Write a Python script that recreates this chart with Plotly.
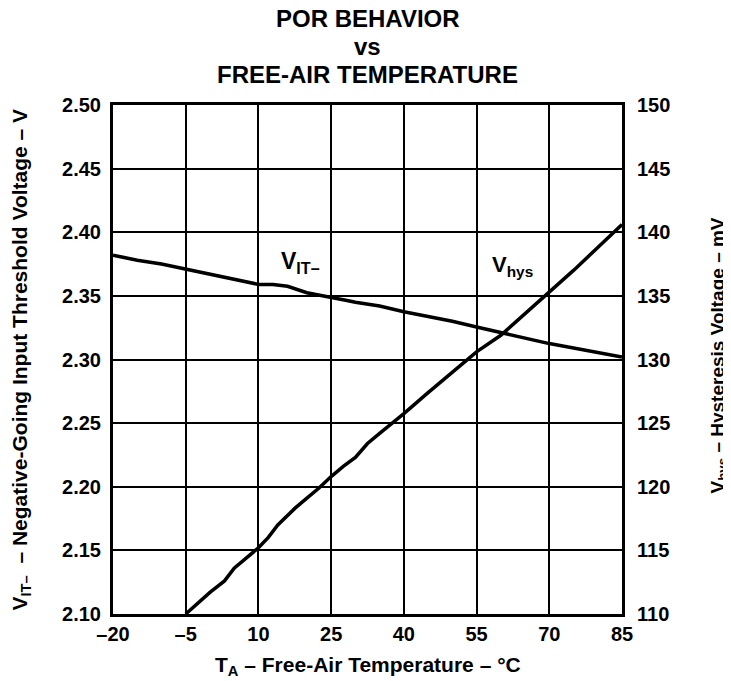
import plotly.graph_objects as go

# Data
temp_vit = [-20, -15, -10, -5, 0, 5, 10, 13, 16, 20, 23, 25, 28, 30, 35, 40, 45, 50, 55, 60, 65, 70, 75, 80, 85]
vit = [2.382, 2.378, 2.375, 2.371, 2.367, 2.363, 2.359, 2.359, 2.3575, 2.3525, 2.3505, 2.349, 2.3465, 2.345,
       2.342, 2.3375, 2.334, 2.330, 2.3255, 2.321, 2.317, 2.3125, 2.309, 2.3055, 2.302]

temp_hys = [-5, 0, 3, 5, 10, 12, 14, 17.5, 20, 22.5, 25, 27.5, 30, 32.5, 35, 40, 45, 50, 55, 60, 65, 70, 75, 80, 85]
vhys = [110.0, 111.7, 112.6, 113.6, 115.2, 116.0, 117.0, 118.3, 119.1, 119.9, 120.8, 121.6, 122.3, 123.4,
        124.2, 125.75, 127.4, 129.0, 130.6, 131.9, 133.6, 135.3, 137.0, 138.8, 140.6]

x_ticks = [-20, -5, 10, 25, 40, 55, 70, 85]
x_ticktext = ["–20", "–5", "10", "25", "40", "55", "70", "85"]
y_ticks = [2.10, 2.15, 2.20, 2.25, 2.30, 2.35, 2.40, 2.45, 2.50]
y2_ticks = [110, 115, 120, 125, 130, 135, 140, 145, 150]

title_lines = ["POR BEHAVIOR", "vs", "FREE-AIR TEMPERATURE"]

FONT = "Liberation Sans, Arial, sans-serif"
W, H = 723, 673
L, R, T, B = 105, 109, 97, 67

fig = go.Figure()
fig.add_trace(go.Scatter(x=temp_vit, y=vit, mode="lines", line=dict(color="black", width=3.5),
                         yaxis="y", showlegend=False))
fig.add_trace(go.Scatter(x=temp_hys, y=vhys, mode="lines", line=dict(color="black", width=3.5),
                         yaxis="y2", showlegend=False))

tickfont = dict(family=FONT, size=20, color="black", weight="bold")

fig.update_layout(
    width=W, height=H,
    margin=dict(l=L, r=R, t=T, b=B, pad=0),
    paper_bgcolor="white", plot_bgcolor="white",
    font=dict(family=FONT, color="black"),
    xaxis=dict(range=[-20, 85], tickvals=x_ticks, ticktext=x_ticktext, showgrid=True,
               gridcolor="black", gridwidth=1.5, showline=True, linecolor="black", linewidth=3,
               mirror=True, ticks="", ticklabelstandoff=0, tickfont=tickfont, zeroline=False),
    yaxis=dict(range=[2.10, 2.50], tickvals=y_ticks, tickformat=".2f", showgrid=True,
               gridcolor="black", gridwidth=1.5, showline=True, linecolor="black", linewidth=3,
               mirror=True, ticks="", ticklabelstandoff=5, tickfont=tickfont, zeroline=False),
    yaxis2=dict(range=[110, 150], tickvals=y2_ticks, overlaying="y", side="right", showgrid=False,
                showline=False, ticks="", ticklabelstandoff=14, tickfont=tickfont, zeroline=False),
)

# Title lines
titlefont = dict(family=FONT, size=24, color="black", weight="bold")
for line, yc in zip(title_lines, [10, 38, 66]):
    fig.add_annotation(text=line, xref="paper", yref="paper", x=0.5, y=1, yshift=T - yc,
                       showarrow=False, font=titlefont, xanchor="center", yanchor="middle")

axfont = dict(family=FONT, size=21, color="black", weight="bold")
fig.add_annotation(text="T<sub>A</sub> – Free-Air Temperature – °C", xref="paper", yref="paper",
                   x=0.5, y=0, yshift=-52, showarrow=False, font=axfont,
                   xanchor="center", yanchor="middle")
fig.add_annotation(text="V<sub>IT–</sub>  – Negative-Going Input Threshold Voltage – V", xref="paper",
                   yref="paper", x=0, xshift=-93, y=0.5, textangle=-90, showarrow=False,
                   font=axfont, xanchor="center", yanchor="middle")
fig.add_annotation(text="V<sub>hys</sub> – Hysteresis Voltage – mV", xref="paper", yref="paper",
                   x=1, xshift=96, y=0.5, yshift=4, textangle=-90, showarrow=False,
                   font=dict(family=FONT, size=19, color="black", weight="bold"),
                   xanchor="center", yanchor="middle")

lblfont = dict(family=FONT, size=23, color="black", weight="bold")
fig.add_annotation(text="V<sub>IT–</sub>", x=18.6, y=2.3766, xref="x", yref="y", showarrow=False,
                   font=lblfont)
fig.add_annotation(text="V<sub>hys</sub>", x=62.5, y=2.3735, xref="x", yref="y", showarrow=False,
                   font=dict(family=FONT, size=22, color="black", weight="bold"))

fig.write_html("out.html")
